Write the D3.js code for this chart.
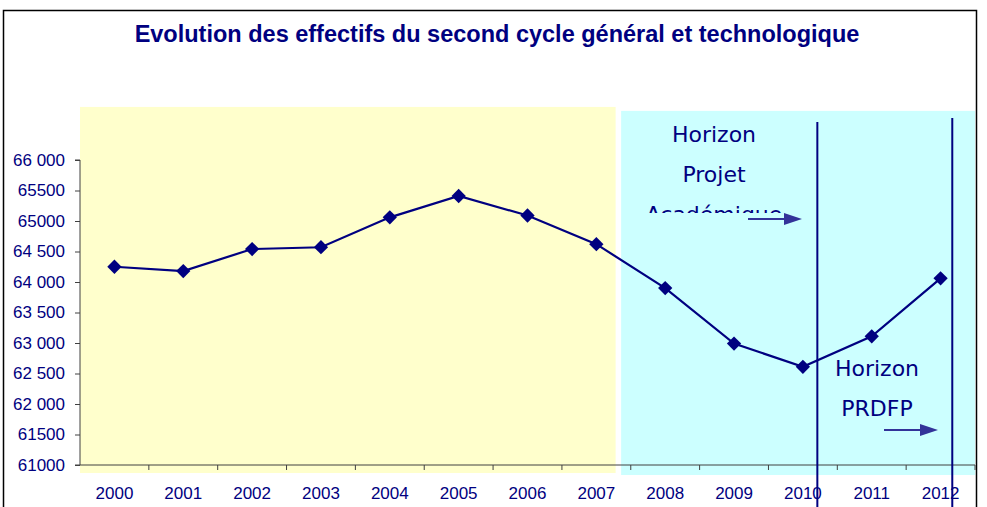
<!DOCTYPE html>
<html>
<head>
<meta charset="utf-8">
<script src="https://cdn.jsdelivr.net/npm/d3@7"></script>
<style>
  body { margin: 0; background: #fff; }
  svg { display: block; }
</style>
</head>
<body>
<div id="scene"></div>
<script>
// chart values
var years = ["2000","2001","2002","2003","2004","2005","2006","2007","2008","2009","2010","2011","2012"];
var effectifs = [64250, 64180, 64540, 64570, 65060, 65410, 65090, 64620, 63900, 62990, 62610, 63110, 64060];
var yTicks = [61000, 61500, 62000, 62500, 63000, 63500, 64000, 64500, 65000, 65500, 66000];
var yTickLabels = ["61000", "61500", "62 000", "62 500", "63 000", "63 500", "64 000", "64 500", "65000", "65500", "66 000"];

var ctx = {
  w: 987,
  h: 507,
  left: 80,
  right: 975,
  top: 160,
  bottom: 465,
  navy: "#000080",
  arrow: "#333399"
};

var svg = d3.select("#scene").append("svg")
  .attr("width", ctx.w)
  .attr("height", ctx.h);

var x = d3.scaleBand().domain(years).range([ctx.left, ctx.right]);
// continuous position in "year slots" for the shaded zones and markers
var xPos = d3.scaleLinear().domain([0, years.length]).range([ctx.left, ctx.right]);
var y = d3.scaleLinear().domain([61000, 66000]).range([ctx.bottom, ctx.top]);

// outer frame
svg.append("path")
  .attr("d", "M3.5," + ctx.h + "V10.5H" + (ctx.right + 1.5) + "V" + ctx.h)
  .attr("fill", "none")
  .attr("stroke", "#000")
  .attr("stroke-width", 1.5);

// shaded zones
svg.append("rect")
  .attr("x", xPos(0)).attr("y", y(66870))
  .attr("width", xPos(7.78) - xPos(0))
  .attr("height", ctx.bottom + 8 - y(66870))
  .attr("fill", "#ffffcc");

svg.append("rect")
  .attr("x", xPos(7.86)).attr("y", y(66805))
  .attr("width", xPos(13) - xPos(7.86))
  .attr("height", ctx.bottom + 10 - y(66805))
  .attr("fill", "#ccffff");

// title
svg.append("text")
  .attr("x", 497).attr("y", 42)
  .attr("text-anchor", "middle")
  .attr("font-family", "Liberation Sans, Arial, sans-serif")
  .attr("font-weight", "bold")
  .attr("font-size", 23.5)
  .attr("fill", ctx.navy)
  .text("Evolution des effectifs du second cycle général et technologique");

// axes
var yAxis = d3.axisLeft(y)
  .tickValues(yTicks)
  .tickSize(5)
  .tickPadding(10)
  .tickFormat(function(d, i) { return yTickLabels[i]; });

var gy = svg.append("g")
  .attr("transform", "translate(" + ctx.left + ",0)")
  .call(yAxis);

var xAxis = d3.axisBottom(x).tickSize(0).tickPadding(19);
var gx = svg.append("g")
  .attr("transform", "translate(0," + ctx.bottom + ")")
  .call(xAxis);

// ticks between categories
gx.selectAll(".sep")
  .data(d3.range(1, years.length + 1))
  .enter().append("line")
  .attr("x1", function(d) { return xPos(d); })
  .attr("x2", function(d) { return xPos(d); })
  .attr("y1", 0).attr("y2", 5)
  .attr("stroke", "#404040");

[gx, gy].forEach(function(g) {
  g.select(".domain").attr("stroke", "#404040");
  g.selectAll(".tick line").attr("stroke", "#404040");
  g.selectAll("text")
    .attr("font-family", "Liberation Sans, Arial, sans-serif")
    .attr("font-size", 17)
    .attr("fill", ctx.navy);
});
gy.select(".domain").attr("d", "M-5," + ctx.top + "H0V" + ctx.bottom + "H-5");
gx.select(".domain").attr("d", "M" + ctx.left + ",0H" + ctx.right);
gx.selectAll(".tick text").attr("dy", "0.9em");

// vertical horizon markers
var markers = [10.71, 12.67];
var markerTop = [66625, 66690];
svg.selectAll(".marker")
  .data(markers)
  .enter().append("line")
  .attr("x1", function(d) { return xPos(d); })
  .attr("x2", function(d) { return xPos(d); })
  .attr("y1", function(d, i) { return y(markerTop[i]); })
  .attr("y2", ctx.h)
  .attr("stroke", ctx.navy)
  .attr("stroke-width", 2);

// series
var line = d3.line()
  .x(function(d, i) { return x(years[i]) + x.bandwidth() / 2; })
  .y(function(d) { return y(d); });

svg.append("path")
  .datum(effectifs)
  .attr("d", line)
  .attr("fill", "none")
  .attr("stroke", ctx.navy)
  .attr("stroke-width", 2.2);

var diamond = d3.symbol().type(d3.symbolDiamond2).size(130);
svg.selectAll(".pt")
  .data(effectifs)
  .enter().append("path")
  .attr("d", diamond)
  .attr("transform", function(d, i) {
    return "translate(" + (x(years[i]) + x.bandwidth() / 2) + "," + y(d) + ")";
  })
  .attr("fill", ctx.navy);

// annotations
var handFont = "'Comic Sans MS', 'DejaVu Sans', sans-serif";

svg.append("clipPath").attr("id", "boxClip")
  .append("rect")
  .attr("x", 630).attr("y", 112).attr("width", 180).attr("height", 101);

var note1 = svg.append("text")
  .attr("clip-path", "url(#boxClip)")
  .attr("text-anchor", "middle")
  .attr("font-family", handFont)
  .attr("font-size", 22)
  .attr("fill", ctx.navy);
["Horizon", "Projet", "Académique"].forEach(function(t, i) {
  note1.append("tspan").attr("x", 714).attr("y", 142 + i * 40).text(t);
});

var note2 = svg.append("text")
  .attr("text-anchor", "middle")
  .attr("font-family", handFont)
  .attr("font-size", 22)
  .attr("fill", ctx.navy);
["Horizon", "PRDFP"].forEach(function(t, i) {
  note2.append("tspan").attr("x", 877).attr("y", 376 + i * 40).text(t);
});

// arrows
svg.append("defs").append("marker")
  .attr("id", "head")
  .attr("viewBox", "0 0 15 10")
  .attr("refX", 0).attr("refY", 5)
  .attr("markerWidth", 9).attr("markerHeight", 6)
  .attr("orient", "auto")
  .attr("markerUnits", "strokeWidth")
  .append("path").attr("d", "M0,0L15,5L0,10Z").attr("fill", ctx.arrow);

var arrows = [[748, 784, 219], [884, 920, 430]];
svg.selectAll(".arrow")
  .data(arrows)
  .enter().append("line")
  .attr("x1", function(d) { return d[0]; })
  .attr("x2", function(d) { return d[1]; })
  .attr("y1", function(d) { return d[2]; })
  .attr("y2", function(d) { return d[2]; })
  .attr("stroke", ctx.arrow)
  .attr("stroke-width", 2)
  .attr("marker-end", "url(#head)");
</script>
</body>
</html>
